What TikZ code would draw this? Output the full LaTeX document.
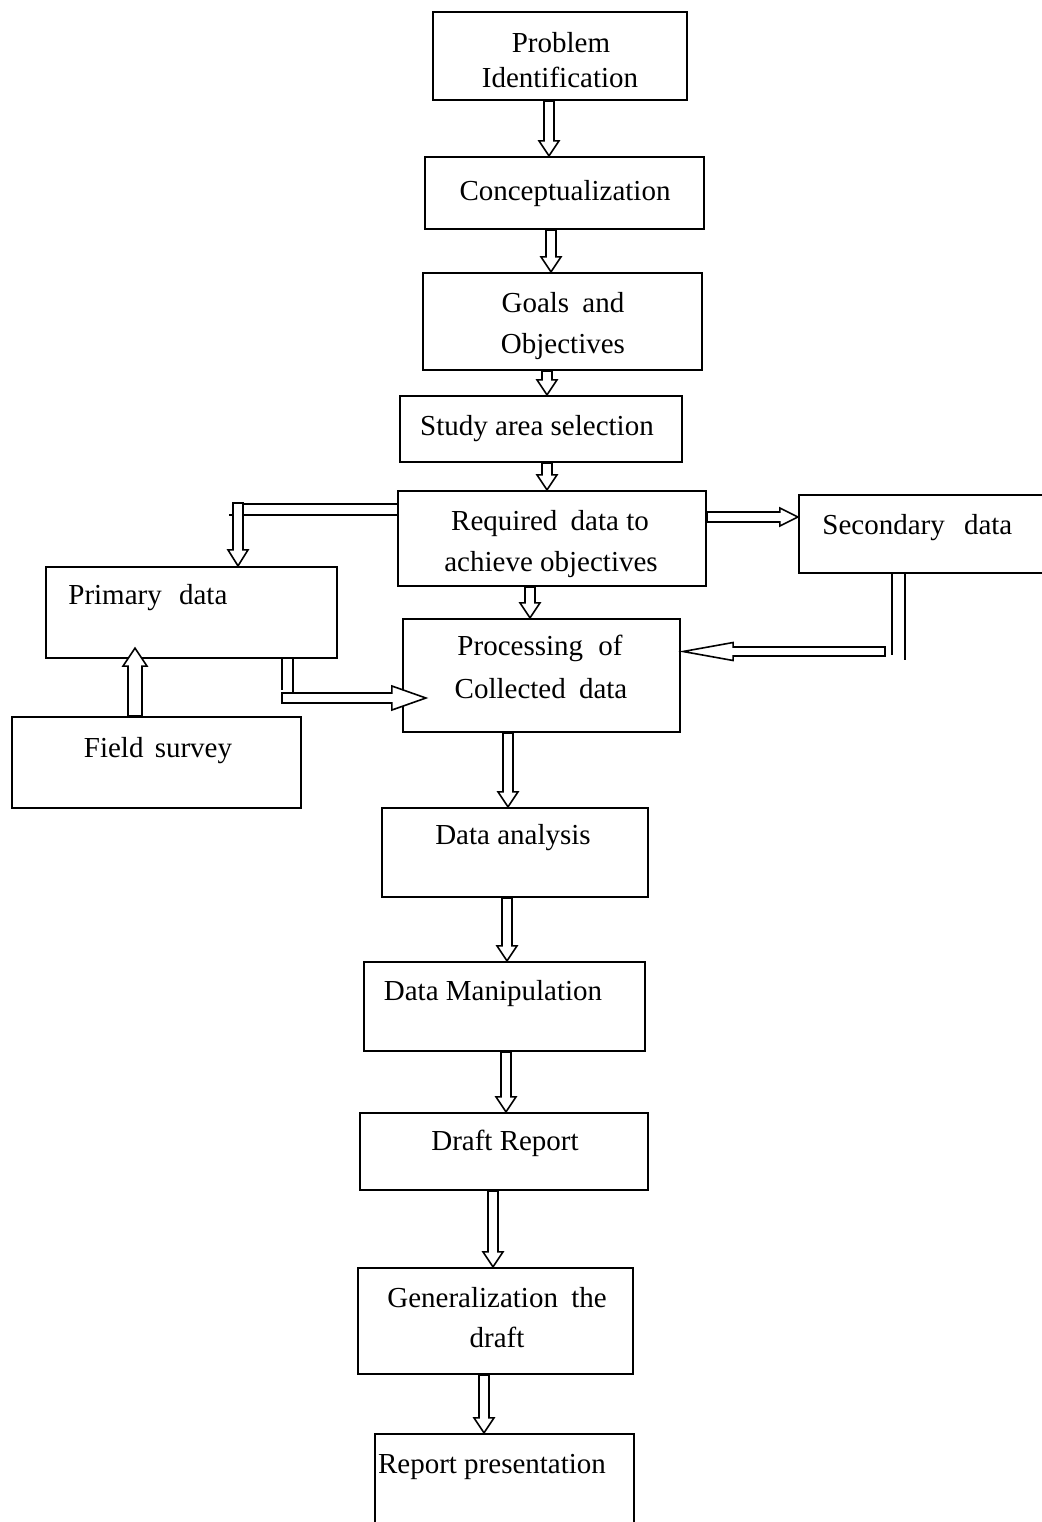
\documentclass[tikz,border=0pt]{standalone}
\usepackage{fontspec}
\setmainfont{Liberation Serif}
\usetikzlibrary{calc}
\newcommand\wsp[1]{\hspace{#1}}
\begin{document}
\begin{tikzpicture}[x=0.5pt,y=-0.5pt,
  box/.style={draw, line width=1.1pt, rectangle, inner sep=0pt},
  txt/.style={font=\fontsize{14.5}{17.5}\selectfont, inner sep=0pt, anchor=base},
  txtl/.style={txt, anchor=base west},
  arr/.style={draw, line width=0.8pt, line join=miter, fill=white},
  dbl/.style={draw, line width=0.8pt}]
\useasboundingbox (0,0) rectangle (1041,1522);
% boxes
\node[box, minimum width=127pt, minimum height=44pt] (prob) at (560,56) {};
\node[box, minimum width=139.5pt, minimum height=36pt] (conc) at (564.5,193) {};
\node[box, minimum width=139.5pt, minimum height=48.5pt] (goal) at (562.5,321.5) {};
\node[box, minimum width=141pt, minimum height=33pt] (study) at (541,429) {};
\node[box, minimum width=154pt, minimum height=47.5pt] (req) at (552,538.5) {};
\node[box, minimum width=125.5pt, minimum height=39pt] (sec) at (924.5,534) {};
\node[box, minimum width=145.5pt, minimum height=45.5pt] (prim) at (191.5,612.5) {};
\node[box, minimum width=138.5pt, minimum height=56.5pt] (proc) at (541.5,675.5) {};
\node[box, minimum width=144.5pt, minimum height=45.5pt] (field) at (156.5,762.5) {};
\node[box, minimum width=133pt, minimum height=44.5pt] (anal) at (515,852.5) {};
\node[box, minimum width=140.5pt, minimum height=44.5pt] (manip) at (504.5,1006.5) {};
\node[box, minimum width=144pt, minimum height=38.5pt] (draft) at (504,1151.5) {};
\node[box, minimum width=137.5pt, minimum height=53pt] (gen) at (495.5,1321) {};
\node[box, minimum width=129.5pt, minimum height=63pt] (pres) at (504.5,1497) {};
% texts
\node[txt] (prob-a) at (561,52) {Problem};
\node[txt] (prob-b) at (560,87) {Identification};
\node[txt] (conc-a) at (565,200) {Conceptualization};
\node[txt] (goal-a) at (563,312) {Goals\wsp{3pt} and};
\node[txt] (goal-b) at (563,353) {Objectives};
\node[txt] (study-a) at (537,435) {Study area selection};
\node[txt] (req-a) at (550,530) {Required\wsp{3pt} data to};
\node[txt] (req-b) at (551,571) {achieve objectives};
\node[txtl] (sec-a) at (822,534) {Secondary\wsp{6pt} data};
\node[txtl] (prim-a) at (68,604) {Primary\wsp{5pt} data};
\node[txt] (proc-a) at (540,655) {Processing\wsp{4pt} of};
\node[txt] (proc-b) at (541,698) {Collected\wsp{3pt} data};
\node[txt] (field-a) at (158,757) {Field\wsp{2pt} survey};
\node[txt] (anal-a) at (513,844) {Data analysis};
\node[txt] (manip-a) at (493,1000) {Data Manipulation};
\node[txt] (draft-a) at (505,1150) {Draft Report};
\node[txt] (gen-a) at (497,1307) {Generalization\wsp{3pt} the};
\node[txt] (gen-b) at (497,1347) {draft};
\node[txt] (pres-a) at (492,1473) {Report presentation};
% vertical hollow arrows
\newcommand\arrdown[3]{\draw[arr] let \p1=(#2), \p2=(#3), \p3=(#1,0) in
  (\x3-2.5pt,\y1) -- (\x3-2.5pt,\y2+7.5pt) -- (\x3-5pt,\y2+7.5pt) -- (\x3,\y2)
  -- (\x3+5pt,\y2+7.5pt) -- (\x3+2.5pt,\y2+7.5pt) -- (\x3+2.5pt,\y1) -- cycle;}
\arrdown{549}{prob.south}{conc.north}
\arrdown{551}{conc.south}{goal.north}
\arrdown{547}{goal.south}{study.north}
\arrdown{547}{study.south}{req.north}
\arrdown{530}{req.south}{proc.north}
\arrdown{508}{proc.south}{anal.north}
\arrdown{507}{anal.south}{manip.north}
\arrdown{506}{manip.south}{draft.north}
\arrdown{493}{draft.south}{gen.north}
\arrdown{484}{gen.south}{pres.north}
% field survey -> primary data (up)
\draw[arr] let \p1=(field.north), \p2=($(prim.south)+(0,-11)$), \p3=(135,0) in
  (\x3-3.5pt,\y1) -- (\x3-3.5pt,\y2-9pt) -- (\x3-6pt,\y2-9pt) -- (\x3,\y2)
  -- (\x3+6pt,\y2-9pt) -- (\x3+3.5pt,\y2-9pt) -- (\x3+3.5pt,\y1) -- cycle;
% required -> secondary
\draw[arr] let \p1=(req.east), \p2=(sec.west), \p3=(0,517) in
  (\x1,\y3+2.5pt) -- (\x2-9pt,\y3+2.5pt) -- (\x2-9pt,\y3+4.5pt) -- (\x2,\y3)
  -- (\x2-9pt,\y3-4.5pt) -- (\x2-9pt,\y3-2.5pt) -- (\x1,\y3-2.5pt) -- cycle;
% required -> primary
\draw[arr] let \p2=(prim.north), \p3=(238,503) in
  (\x3-2.5pt,\y3) -- (\x3-2.5pt,\y2+8pt) -- (\x3-5pt,\y2+8pt) -- (\x3,\y2)
  -- (\x3+5pt,\y2+8pt) -- (\x3+2.5pt,\y2+8pt) -- (\x3+2.5pt,\y3) -- cycle;
\draw[dbl] let \p1=(req.west), \p3=(238,504) in
  (\x3+2.5pt,\y3) -- (\x1,\y3) (\x3+2.5pt,\y3-5.5pt) -- (\x1,\y3-5.5pt)
  (\x3-2.5pt,\y3-5.5pt) -- (\x3-4.5pt,\y3-5.5pt);
% primary -> processing
\draw[dbl] let \p1=(prim.south) in
  (282,\y1) -- (282,690) (293,\y1) -- (293,697);
\draw[arr] let \p2=($(proc.west)+(24,0)$), \p3=(282,698) in
  (\x3,\y3+2.5pt) -- (\x2-17pt,\y3+2.5pt) -- (\x2-17pt,\y3+6pt) -- (\x2,\y3)
  -- (\x2-17pt,\y3-6pt) -- (\x2-17pt,\y3-2.5pt) -- (\x3,\y3-2.5pt) -- cycle;
% secondary -> processing
\draw[dbl] let \p1=(sec.south) in
  (892,\y1) -- (892,655) (905,\y1) -- (905,660);
\draw[arr] let \p2=($(proc.east)+(2,0)$), \p3=(885,651.5) in
  (\x3,\y3+2.25pt) -- (\x2+25pt,\y3+2.25pt) -- (\x2+25pt,\y3+4.5pt) -- (\x2,\y3)
  -- (\x2+25pt,\y3-4.5pt) -- (\x2+25pt,\y3-2.25pt) -- (\x3,\y3-2.25pt) -- cycle;
\end{tikzpicture}
\end{document}
